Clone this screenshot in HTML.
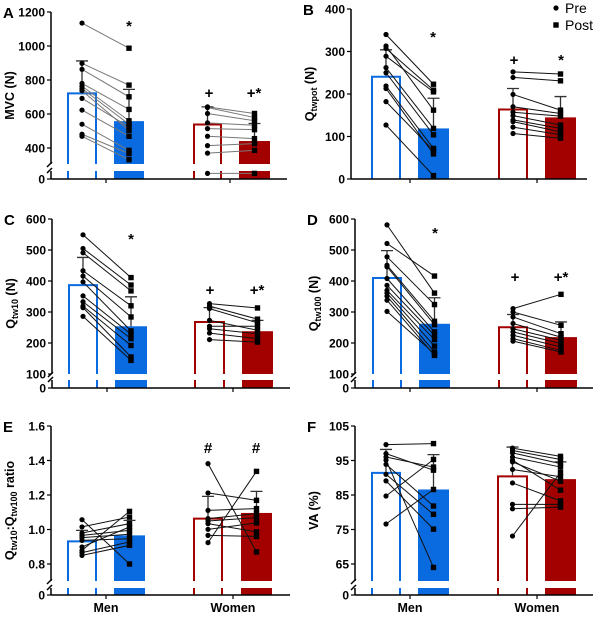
<!DOCTYPE html>
<html><head><meta charset="utf-8">
<style>
body{margin:0;background:#fff;}
svg{display:block;font-family:"Liberation Sans",Arial,sans-serif;}
</style></head>
<body>
<svg id="fig" width="600" height="617" viewBox="0 0 600 617" xmlns="http://www.w3.org/2000/svg"></svg>
<script>
// ---- data ----
const categories = ["Men","Women"];
// Panel A: MVC (N)
const aMeans = [727, 558, 544, 441];
const aErr = [912, 745, 642, 544];
const aMenPre = [1135, 898, 863, 780, 764, 750, 737, 692, 623, 540, 481, 469];
const aMenPost = [987, 770, 701, 627, 560, 540, 504, 524, 469, 386, 367, 331];
const aWomenPre = [642, 638, 603, 548, 514, 469, 414, 370, 70];
const aWomenPost = [603, 579, 560, 534, 508, 455, 426, 386, 70];
// Panel B: Qtwpot (N)
const bMeans = [243, 119, 166, 145];
const bErr = [304, 190, 213, 194];
const bMenPre = [340, 313, 307, 289, 262, 250, 219, 213, 182, 127];
const bMenPost = [223, 162, 209, 205, 119, 104, 72, 59, 67, 8];
const bWomenPre = [252, 239, 199, 170, 157, 149, 139, 135, 122, 107];
const bWomenPost = [247, 231, 162, 154, 148, 127, 119, 111, 104, 96];
// Panel C: Qtw10 (N)
const cMeans = [390, 254, 271, 238];
const cErr = [476, 349, 314, 273];
const cMenPre = [549, 505, 491, 433, 416, 397, 352, 333, 319, 314, 286];
const cMenPost = [411, 387, 368, 320, 284, 239, 228, 214, 192, 155, 144];
const cWomenPre = [327, 319, 311, 273, 254, 246, 232, 211];
const cWomenPost = [313, 277, 265, 241, 254, 230, 214, 203];
// Panel D: Qtw100 (N)
const dMeans = [413, 262, 254, 219];
const dErr = [498, 346, 292, 268];
const dMenPre = [581, 521, 478, 451, 446, 408, 386, 370, 361, 351, 338, 302];
const dMenPost = [361, 416, 324, 270, 259, 236, 225, 211, 190, 171, 160, 165];
const dWomenPre = [311, 300, 284, 263, 246, 236, 225, 214, 206];
const dWomenPost = [357, 257, 230, 219, 209, 198, 187, 176, 171];
// Panel E: ratio
const eMeans = [0.937, 0.966, 1.069, 1.096];
const eErr = [0.995, 1.053, 1.192, 1.221];
const eMenPre = [1.057, 1.015, 0.98, 0.966, 0.953, 0.937, 0.899, 0.879, 0.866, 0.85];
const eMenPost = [0.80, 1.072, 1.034, 0.995, 0.972, 0.947, 1.015, 1.105, 0.928, 0.908];
const eWomenPre = [1.382, 1.212, 1.111, 1.063, 1.049, 1.034, 1.001, 0.966, 0.924];
const eWomenPost = [0.870, 1.169, 1.121, 1.092, 1.069, 0.986, 1.038, 0.960, 1.337];
// Panel F: VA (%)
const fMeans = [91.7, 86.6, 90.7, 89.6];
const fErr = [98.2, 96.7, 98.9, 94.6];
const fMenPre = [99.6, 97.0, 96.0, 95.1, 93.9, 91.0, 89.1, 84.7, 76.6];
const fMenPost = [99.9, 92.2, 93.1, 64.0, 81.8, 79.4, 75.1, 95.3, 86.6];
const fWomenPre = [98.6, 97.9, 97.2, 96.0, 95.1, 94.6, 92.4, 88.5, 82.3, 81.0, 73.1];
const fWomenPost = [96.2, 95.3, 94.1, 93.1, 86.4, 89.0, 90.3, 83.3, 82.3, 81.5, 91.5];
const aTicks = [400,600,800,1000,1200];
const bTicks = [0,100,200,300,400];
const cTicks = [100,200,300,400,500,600];
const dTicks = [100,200,300,400,500,600];
const eTicks = [0.8,1.0,1.2,1.4,1.6];
const fTicks = [65,75,85,95,105];
const eTickLabels = ["0.8","1.0","1.2","1.4","1.6"];

const NS="http://www.w3.org/2000/svg";
const svg=document.getElementById('fig');
function mk(tag,attrs,parent){const e=document.createElementNS(NS,tag);for(const k in attrs)e.setAttribute(k,attrs[k]);(parent||svg).appendChild(e);return e;}

const BLUE="#0a6be0", RED="#a30000";
const panels=[
 {id:"a",letter:"A",ax:51,top:1200,topY:12,low:400,lowY:148,zeroY:179,bTop:164,bBot:171,lowMax:100,right:287,
  bars:[[67,97],[114,144],[193,222],[239,270]],cats:[106,230],ticks:aTicks,labels:null,
  means:aMeans,err:aErr,pts:[aMenPre,aMenPost,aWomenPre,aWomenPost],marks:[[129,25,"*"],[209,92,"+"],[254,92,"+*"]],lineCol:"#777",
  ylabel:["MVC (N)"]},
 {id:"b",letter:"B",ax:351,top:400,topY:9,low:0,lowY:179,zeroY:179,bTop:null,right:587,
  bars:[[371,401],[418,449],[498,528],[545,576]],cats:[410,537],ticks:bTicks,labels:null,
  means:bMeans,err:bErr,pts:[bMenPre,bMenPost,bWomenPre,bWomenPost],marks:[[433,36,"*"],[514,59,"+"],[561,59,"*"]],lineCol:"#111",
  ylabel:["Q","twpot"," (N)"]},
 {id:"c",letter:"C",ax:52,top:600,topY:219,low:200,lowY:343,zeroY:388,bTop:374,bBot:380,lowMax:100,right:290,
  bars:[[68,98],[115,147],[194,225],[242,273]],cats:[107,233],ticks:cTicks,labels:null,
  means:cMeans,err:cErr,pts:[cMenPre,cMenPost,cWomenPre,cWomenPost],marks:[[131,238,"*"],[210,289,"+"],[257,289,"+*"]],lineCol:"#111",
  ylabel:["Q","tw10"," (N)"]},
 {id:"d",letter:"D",ax:355,top:600,topY:219,low:200,lowY:343,zeroY:388,bTop:374,bBot:380,lowMax:100,right:593,
  bars:[[372,402],[419,450],[498,528],[545,577]],cats:[410,537],ticks:dTicks,labels:null,
  means:dMeans,err:dErr,pts:[dMenPre,dMenPost,dWomenPre,dWomenPost],marks:[[435,232,"*"],[515,276,"+"],[561,276,"+*"]],lineCol:"#111",
  ylabel:["Q","tw100"," (N)"]},
 {id:"e",letter:"E",ax:51,top:1.6,topY:426,low:0.8,lowY:564,zeroY:595,bTop:581,bBot:588,lowMax:0.1,right:290,
  bars:[[67,97],[114,145],[193,223],[241,272]],cats:[106,233],ticks:eTicks,labels:eTickLabels,
  means:eMeans,err:eErr,pts:[eMenPre,eMenPost,eWomenPre,eWomenPost],marks:[[208,447,"#"],[256,447,"#"]],lineCol:"#111",
  ylabel:["Q","tw10",":Q","tw100"," ratio"],catLabels:true},
 {id:"f",letter:"F",ax:355,top:105,topY:426,low:65,lowY:564,zeroY:595,bTop:581,bBot:588,lowMax:10,right:593,
  bars:[[371,401],[418,449],[497,528],[545,576]],cats:[410,537],ticks:fTicks,labels:null,
  means:fMeans,err:fErr,pts:[fMenPre,fMenPost,fWomenPre,fWomenPost],marks:[],lineCol:"#111",
  ylabel:["VA (%)"],catLabels:true}
];

panels.forEach(p=>{
  const g=mk('g',{});
  
  
  const bottomRef = p.bTop===null ? p.zeroY : p.bTop;
  const perPx=(p.top-p.low)/(p.lowY-p.topY);
  const breakVal = p.bTop===null ? -Infinity : p.low-(p.bTop-p.lowY)*perPx - 1e-6;
  const y=v=>{
    if(v<breakVal){
      return p.zeroY - Math.min(v,p.lowMax)/p.lowMax*(p.zeroY-p.bBot);
    }
    return p.topY+(p.top-v)/perPx;
  };
  // bars
  p.bars.forEach((b,i)=>{
    const col = i<2?BLUE:RED, filled = i%2===1;
    const ym=y(p.means[i]);
    if(filled){
      const r=mk('rect',{x:b[0],y:ym,width:b[1]-b[0],height:bottomRef-ym,fill:col},g);
      
      
      if(p.bTop!==null){const r2=mk('rect',{x:b[0],y:p.bBot,width:b[1]-b[0],height:p.zeroY-p.bBot,fill:col},g);
        }
    } else {
      const r=mk('path',{d:`M${b[0]+1},${bottomRef} V${ym+1} H${b[1]-1} V${bottomRef}`,fill:'none',stroke:col,'stroke-width':2},g);
      
      
      if(p.bTop!==null){const r2=mk('path',{d:`M${b[0]+1},${p.bBot} V${p.zeroY} M${b[1]-1},${p.bBot} V${p.zeroY}`,stroke:col,'stroke-width':2},g);
        }
    }
  });
  // connecting lines
  [[0,1],[2,3]].forEach(([a,c])=>{
    const xa=(p.bars[a][0]+p.bars[a][1])/2, xc=(p.bars[c][0]+p.bars[c][1])/2;
    const n=Math.min(p.pts[a].length,p.pts[c].length);
    for(let k=0;k<n;k++){
      const l=mk('line',{x1:xa,y1:y(p.pts[a][k]),x2:xc,y2:y(p.pts[c][k]),stroke:p.lineCol,'stroke-width':1},g);
      
      
    }
  });
  // error bars
  p.bars.forEach((b,i)=>{
    const cx=(b[0]+b[1])/2, ym=y(p.means[i]), ye=y(p.err[i]);
    const e=mk('path',{d:`M${cx},${ym} V${ye} M${cx-6},${ye} H${cx+6}`,stroke:'#333','stroke-width':1.3,fill:'none'},g);
    
    
  });
  // points
  p.pts.forEach((arr,i)=>{
    const cx=(p.bars[i][0]+p.bars[i][1])/2;
    arr.forEach(v=>{
      let m;
      if(i%2===0) m=mk('circle',{cx:cx,cy:y(v),r:2.6,fill:'#000'},g);
      else m=mk('rect',{x:cx-2.7,y:y(v)-2.7,width:5.4,height:5.4,fill:'#000'},g);
      
      
    });
  });
  // axes
  const ya=mk('path',{d: p.bTop===null ? `M${p.ax},${p.topY} V${p.zeroY}` :
     `M${p.ax},${p.topY} V${p.bTop} M${p.ax},${p.bBot} V${p.zeroY} M${p.ax-4},${p.bTop+3} l5,-5 M${p.ax-4},${p.bBot+2} l5,-5`,
     stroke:'#000','stroke-width':1.5,fill:'none'},g);
  
  
  const xa=mk('line',{x1:p.ax,y1:p.zeroY,x2:p.right,y2:p.zeroY,stroke:'#000','stroke-width':1.5},g);
  
  
  p.cats.forEach((cx,j)=>{
    mk('line',{x1:cx,y1:p.zeroY,x2:cx,y2:p.zeroY+4,stroke:'#000','stroke-width':1.2},g);
    if(p.catLabels){
      const t=mk('text',{x:cx,y:p.zeroY+17,'text-anchor':'middle','font-size':12.5,'font-weight':'bold'},g);
      t.textContent=categories[j];
      
      
    }
  });
  const tks = p.bTop===null ? p.ticks : p.ticks.concat([0]);
  tks.forEach((v,j)=>{
    const ty = (v===0 && p.bTop!==null) ? p.zeroY : y(v);
    mk('line',{x1:p.ax-4,y1:ty,x2:p.ax,y2:ty,stroke:'#000','stroke-width':1.2},g);
    const t=mk('text',{x:p.ax-6,y:ty+4.5,'text-anchor':'end','font-size':12,'font-weight':'bold'},g);
    t.textContent = (p.labels && j<p.labels.length) ? p.labels[j] : String(v);
    
    
  });
  // y label
  const midY=(p.topY+p.zeroY)/2;
  const lab=mk('text',{transform:`translate(${p.ax-37},${midY}) rotate(-90)`,'text-anchor':'middle','font-size':12.5,'font-weight':'bold'},g);
  
  
  p.ylabel.forEach((s,k)=>{
    const sp=mk('tspan',{},lab);
    sp.textContent=s;
    if(p.ylabel.length>1 && k%2===1){sp.setAttribute('font-size','9');sp.setAttribute('dy','3');}
    else if(k>0){sp.setAttribute('dy','-3');}
  });
  // letter
  const L=mk('text',{x:p.ax-48,y:p.topY+6,'font-size':15,'font-weight':'bold'},g);
  L.textContent=p.letter;
  
  
  // significance marks
  p.marks.forEach(mm=>{
    const t=mk('text',{x:mm[0],y:mm[1]+6,'text-anchor':'middle','font-size':15,'font-weight':'bold'},g);
    t.textContent=mm[2];
    
    
  });
});
// legend
const lg=mk('g',{});


const lc=mk('circle',{cx:556,cy:8,r:2.6,fill:'#000'},lg);


const lt1=mk('text',{x:565,y:13,'font-size':14},lg);lt1.textContent="Pre";


const ls=mk('rect',{x:553.3,y:22.3,width:5.4,height:5.4,fill:'#000'},lg);


const lt2=mk('text',{x:565,y:30,'font-size':14},lg);lt2.textContent="Post";


</script>
</body></html>
